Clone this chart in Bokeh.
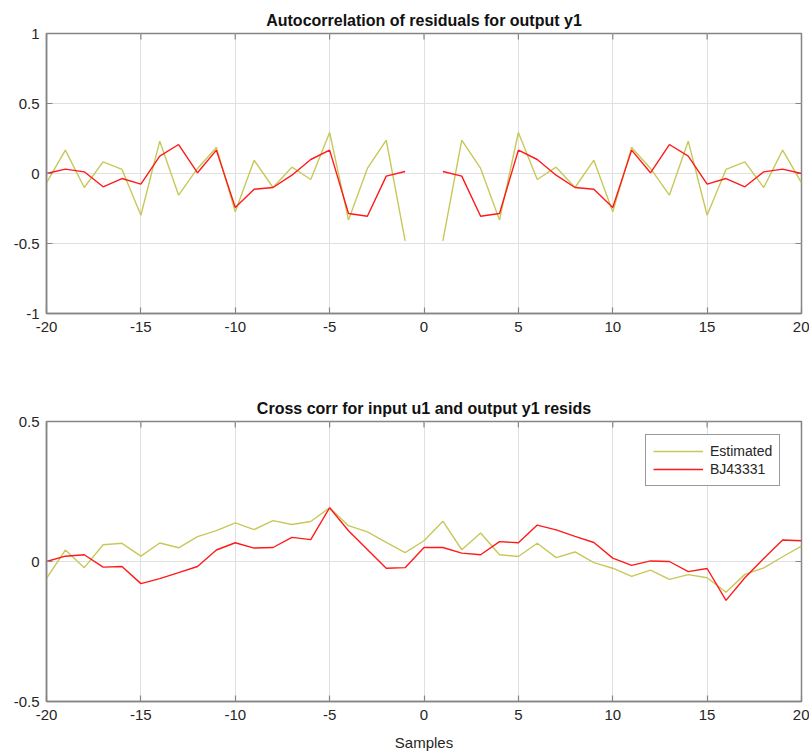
import math
from bokeh.plotting import figure
from bokeh.layouts import column
from bokeh.models import (Range1d, FixedTicker, Legend, LegendItem,
                          CustomJSTickFormatter)
from bokeh.embed import file_html
from bokeh.resources import INLINE

NAN = float("nan")

lags = list(range(-20, 21))

# Autocorrelation of residuals (lag 0 is not drawn)
auto_estimated = [-0.067, 0.167, -0.100, 0.083, 0.029, -0.298, 0.231, -0.155, 0.036, 0.186,
                  -0.274, 0.095, -0.100, 0.045, -0.043, 0.293, -0.333, 0.036, 0.238, -0.481,
                  NAN,
                  -0.481, 0.238, 0.036, -0.333, 0.293, -0.043, 0.045, -0.100, 0.095, -0.274,
                  0.186, 0.036, -0.155, 0.231, -0.298, 0.029, 0.083, -0.100, 0.167, -0.067]
auto_bj = [0.000, 0.031, 0.012, -0.095, -0.036, -0.076, 0.124, 0.207, 0.005, 0.167,
           -0.243, -0.112, -0.100, -0.012, 0.100, 0.167, -0.286, -0.305, -0.019, 0.014,
           NAN,
           0.014, -0.019, -0.305, -0.286, 0.167, 0.100, -0.012, -0.100, -0.112, -0.243,
           0.167, 0.005, 0.207, 0.124, -0.076, -0.036, -0.095, 0.012, 0.031, 0.000]

# Cross correlation input u1 / output y1 residuals
cross_estimated = [-0.060, 0.041, -0.022, 0.060, 0.065, 0.019, 0.066, 0.049, 0.089, 0.110,
                   0.138, 0.114, 0.146, 0.132, 0.143, 0.192, 0.128, 0.106, 0.068, 0.032,
                   0.074, 0.144, 0.042, 0.102, 0.024, 0.018, 0.065, 0.014, 0.034, -0.004, -0.024,
                   -0.053, -0.031, -0.064, -0.047, -0.058, -0.110, -0.046, -0.023, 0.017, 0.055]
cross_bj = [0.000, 0.019, 0.024, -0.020, -0.018, -0.079, -0.061, -0.040, -0.018, 0.041,
            0.067, 0.048, 0.050, 0.086, 0.078, 0.192, 0.110, 0.043, -0.024, -0.022,
            0.050, 0.050, 0.030, 0.024, 0.071, 0.067, 0.130, 0.113, 0.090, 0.068, 0.012,
            -0.014, 0.002, 0.000, -0.036, -0.025, -0.139, -0.058, 0.011, 0.077, 0.074]

x_ticks = [-20, -15, -10, -5, 0, 5, 10, 15, 20]
auto_y_ticks = [-1, -0.5, 0, 0.5, 1]
cross_y_ticks = [-0.5, 0, 0.5]
series_names = ["Estimated", "BJ43331"]
titles = ["Autocorrelation of residuals for output y1",
          "Cross corr for input u1 and output y1 resids"]
x_label = "Samples"

YELLOW = "#c8c85a"
RED = "#ff1a1a"
AXIS = "#858585"
TEXT = "#262626"
FONT = "Liberation Sans"
fmt_code = "return tick.toString();"


def make_fig(title, yticks, top, bottom, title_gap):
    p = figure(frame_width=755, frame_height=280,
               x_range=Range1d(x_ticks[0], x_ticks[-1]),
               y_range=Range1d(yticks[0], yticks[-1]),
               output_backend="svg", toolbar_location=None,
               min_border_left=46, min_border_right=8,
               min_border_top=top, min_border_bottom=bottom, title=title)
    p.title.align = "center"
    p.title.text_font = FONT
    p.title.text_font_size = "16px"
    p.title.text_font_style = "bold"
    p.title.text_color = "#111111"
    p.title.standoff = title_gap
    p.outline_line_color = AXIS
    p.outline_line_width = 1.5
    p.xgrid.ticker = FixedTicker(ticks=x_ticks)
    p.ygrid.ticker = FixedTicker(ticks=yticks)
    p.grid.grid_line_color = "#e0e0e0"
    p.grid.grid_line_width = 1
    bottom_ax = p.below[0]
    left_ax = p.left[0]
    bottom_ax.ticker = FixedTicker(ticks=x_ticks)
    left_ax.ticker = FixedTicker(ticks=yticks)
    for ax in [bottom_ax, left_ax]:
        ax.axis_line_color = AXIS
        ax.axis_line_width = 1.5
        ax.major_tick_line_color = AXIS
        ax.major_tick_line_width = 1.2
        ax.major_tick_in = 6
        ax.major_tick_out = 0
        ax.minor_tick_line_color = None
        ax.formatter = CustomJSTickFormatter(code=fmt_code)
        ax.major_label_text_font = FONT
        ax.major_label_text_font_size = "15px"
        ax.major_label_text_color = TEXT
    bottom_ax.major_label_standoff = 8
    left_ax.major_label_standoff = 7
    # inward tick marks on the top and right edges of the box
    p.ray(x=x_ticks, y=[yticks[-1]] * len(x_ticks), length=6, length_units="screen",
          angle=-90, angle_units="deg", line_color=AXIS, line_width=1.2)
    p.ray(x=[x_ticks[-1]] * len(yticks), y=yticks, length=6, length_units="screen",
          angle=180, angle_units="deg", line_color=AXIS, line_width=1.2)
    return p, bottom_ax


p1, _ = make_fig(titles[0], auto_y_ticks, 33, 79, 10)
p1.line(lags, auto_estimated, line_color=YELLOW, line_width=1.4)
p1.line(lags, auto_bj, line_color=RED, line_width=1.4)

p2, bax = make_fig(titles[1], cross_y_ticks, 29, 54, 10)
r1 = p2.line(lags, cross_estimated, line_color=YELLOW, line_width=1.4)
r2 = p2.line(lags, cross_bj, line_color=RED, line_width=1.4)
bax.axis_label = x_label
bax.axis_label_text_font = FONT
bax.axis_label_text_font_size = "15px"
bax.axis_label_text_font_style = "normal"
bax.axis_label_text_color = TEXT
bax.axis_label_standoff = 11

legend = Legend(items=[LegendItem(label=series_names[0], renderers=[r1]),
                       LegendItem(label=series_names[1], renderers=[r2])],
                location=(599, 215), margin=0, padding=7, spacing=0,
                glyph_width=50, glyph_height=18, label_height=18, label_standoff=7,
                label_text_font=FONT, label_text_font_size="14px", label_text_color=TEXT,
                border_line_color="#333333", border_line_width=1.5,
                background_fill_color="white", background_fill_alpha=1)
p2.add_layout(legend, "center")

layout = column(p1, p2, spacing=0)
open("out.html", "w").write(file_html(layout, INLINE))
